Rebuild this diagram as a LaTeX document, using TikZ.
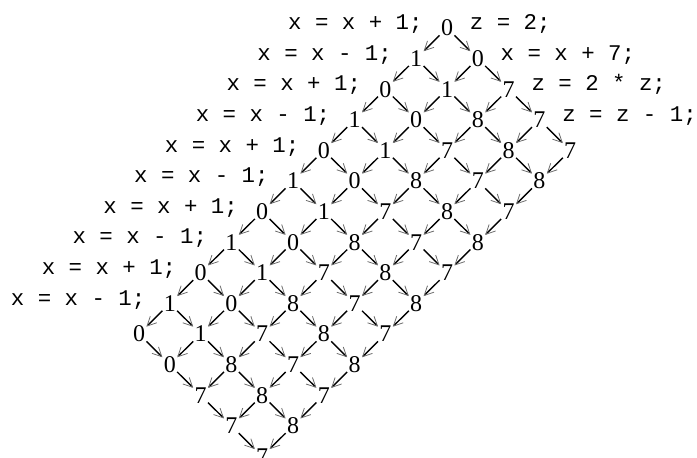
\documentclass[tikz,border=0pt]{standalone}
\usepackage{fontspec}
\setmainfont{Liberation Serif}
\setmonofont{Liberation Mono}
\usetikzlibrary{arrows.meta}
\begin{document}
\begin{tikzpicture}[x=0.5pt,y=-0.5pt,
  val/.style={font=\fontsize{12}{13}\selectfont, inner sep=0.5pt},
  stmt/.style={font=\fontsize{11.2}{13}\selectfont\ttfamily, inner sep=0pt},
  flow/.style={line width=0.7pt, -{Straight Barb[length=4.6pt,width=4.6pt,line width=0.4pt,color=gray!85!black]}}]
\useasboundingbox (0,0) rectangle (697,457);
% lattice of values
\foreach \i in {0,...,10}{
  \foreach \j in {0,...,4}{
    \pgfmathtruncatemacro\v{mod(\i,2)+(\j>1)*7}
    \node[val] (n\i-\j) at ({447+30.8*(\j-\i)},{28+30.6*(\i+\j)}) {\v};
  }
}
% connectors
\foreach \i in {0,...,10}{
  \foreach \j in {0,...,4}{
    \pgfmathtruncatemacro\ii{\i+1}
    \pgfmathtruncatemacro\jj{\j+1}
    \ifnum\i<10 \draw[flow] (n\i-\j) -- (n\ii-\j); \fi
    \ifnum\j<4 \draw[flow] (n\i-\j) -- (n\i-\jj); \fi
  }
}
% left statements
\foreach \r in {0,...,9}{
  \pgfmathtruncatemacro\odd{mod(\r,2)}
  \ifnum\odd=0
    \node[stmt, anchor=base east] (l\r) at ({423-30.8*\r},{29.6+30.6*\r}) {x = x + 1;};
  \else
    \node[stmt, anchor=base east] (l\r) at ({423-30.8*\r},{29.6+30.6*\r}) {x = x - 1;};
  \fi
}
% right statements
\node[stmt, anchor=base west] (r0) at (469.5,29.6) {z = 2;};
\node[stmt, anchor=base west] (r1) at (500.3,60.2) {x = x + 7;};
\node[stmt, anchor=base west] (r2) at (531.1,90.8) {z = 2 * z;};
\node[stmt, anchor=base west] (r3) at (561.9,121.4) {z = z - 1;};
\end{tikzpicture}
\end{document}
